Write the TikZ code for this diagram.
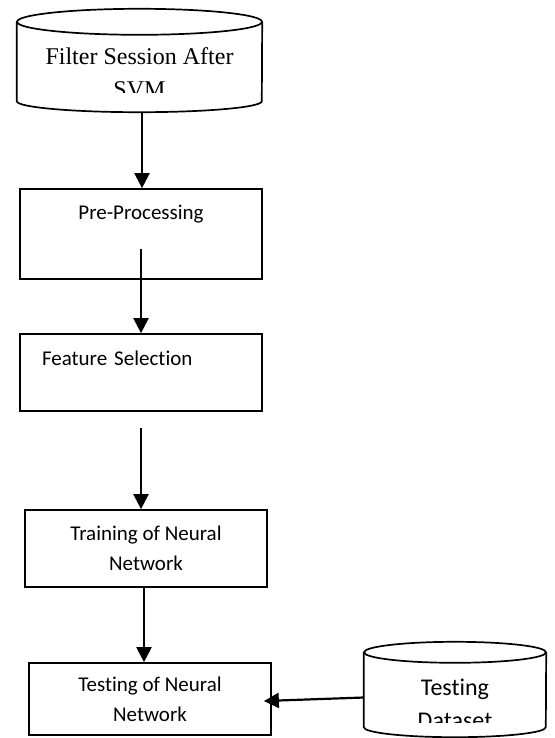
\documentclass[tikz,border=0pt]{standalone}
\usepackage{fontspec}
\setmainfont[Ligatures=NoCommon]{Carlito}
\newfontfamily\timesfont{Liberation Serif}
\usetikzlibrary{arrows.meta}

\begin{document}
\begin{tikzpicture}[x=1pt,y=-1pt,
  box/.style={draw,line width=1.7pt,inner sep=0pt,font=\fontsize{21}{30}\selectfont},
  db/.style={inner sep=0pt},
  dbline/.style={line width=1.7pt},
  flow/.style={line width=2.2pt,-{Triangle[length=15pt,width=15pt]}}]
\useasboundingbox (0,0) rectangle (554,738);
% data stores
\node[db,minimum width=245pt,minimum height=103pt] (fsa) at (139.5,60.5) {};
\draw[dbline] ([yshift=-13pt]fsa.north) ellipse[x radius=122.5pt,y radius=13pt];
\draw[dbline] ([yshift=-13pt]fsa.north west) -- ([yshift=11pt]fsa.south west)
  arc[start angle=180,end angle=360,x radius=122.5pt,y radius=11pt] -- ([yshift=-13pt]fsa.north east);
\node[db,minimum width=182pt,minimum height=95pt] (tds) at (455,689.5) {};
\draw[dbline] ([yshift=-10.5pt]tds.north) ellipse[x radius=91pt,y radius=10.5pt];
\draw[dbline] ([yshift=-10.5pt]tds.north west) -- ([yshift=10pt]tds.south west)
  arc[start angle=180,end angle=360,x radius=91pt,y radius=10pt] -- ([yshift=-10.5pt]tds.north east);
\begin{scope}
  \clip (17,36) rectangle (262,93);
  \node[font=\timesfont\fontsize{24}{33}\selectfont,align=center,inner sep=0pt] (fsatext) at (139.5,73) {Filter Session After\\SVM};
\end{scope}
\begin{scope}
  \clip (364,664) rectangle (546,722);
  \node[font=\fontsize{24}{33}\selectfont,align=center,inner sep=0pt] (tdstext) at (455,704) {Testing\\Dataset};
\end{scope}
% steps
\node[box,minimum width=242pt,text height=30pt,text depth=60pt] (pre) at (141,234) {Pre-Processing};
\node[box,text width=198pt,inner xsep=22pt,align=left,text height=31pt,text depth=46pt] (feat) at (141,372.5) {Feature Selection};
\node[box,minimum width=242pt,minimum height=77pt,align=center] (train) at (146,548.5) {Training of Neural\\Network};
\node[box,minimum width=242pt,minimum height=72pt,align=center] (test) at (150,699) {Testing of Neural\\Network};
% arrows
\draw[flow] ([xshift=2.5pt]fsa.south) -- ([xshift=2.5pt]fsa.south |- pre.north);
\draw[flow] ([yshift=31pt]pre.south) -- (pre.south |- feat.north);
\draw[flow] ([yshift=-16pt]feat.south) -- (feat.south |- train.north);
\draw[flow] ([xshift=-2pt]train.south) -- ([xshift=-2pt]train.south |- test.north);
\draw[flow] ([yshift=-8pt]tds.west) -- ([xshift=-8pt,yshift=-2pt]test.east);
\end{tikzpicture}
\end{document}
